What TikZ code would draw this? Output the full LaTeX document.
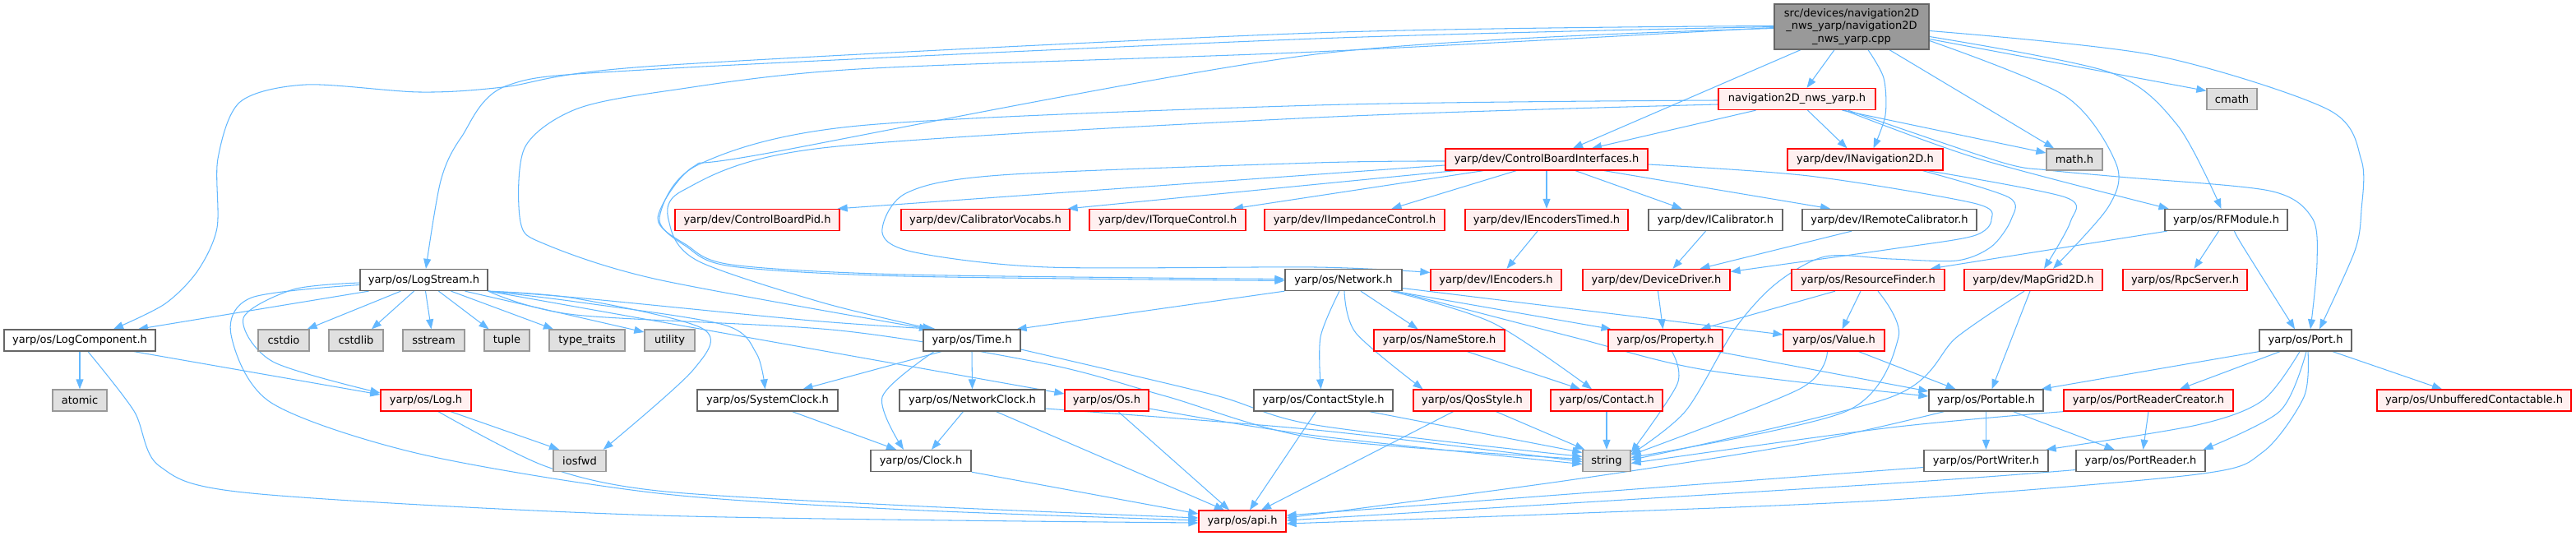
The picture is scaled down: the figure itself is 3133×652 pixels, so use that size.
\documentclass[tikz,border=0pt]{standalone}
\usepackage{fontspec}
\setmainfont{DejaVu Sans}
\usetikzlibrary{arrows.meta}
\definecolor{edgec}{HTML}{63B8FF}
\definecolor{redb}{HTML}{FF0000}
\definecolor{redf}{HTML}{FFF0F0}
\definecolor{greyb}{HTML}{666666}
\definecolor{sysb}{HTML}{999999}
\definecolor{sysf}{HTML}{E0E0E0}
\definecolor{rootf}{HTML}{999999}
\pgfdeclarelayer{background}
\pgfsetlayers{background,main}
\tikzset{
 base/.style={rectangle, draw, line width=1.3pt, minimum height=26pt, inner sep=0pt, font=\fontsize{13pt}{15.5pt}\selectfont, text=black},
 trunc/.style={base, draw=redb, fill=redf},
 plain/.style={base, draw=greyb, fill=white},
 sys/.style={base, draw=sysb, fill=sysf},
 root/.style={base, draw=greyb, fill=rootf, minimum height=55pt, align=center},
 edge/.style={draw=edgec, line width=1.05pt, -{Triangle[length=12pt,width=9pt]}},
}
\begin{document}
\begin{tikzpicture}[x=1pt,y=-1pt]
\useasboundingbox (0,0) rectangle (3133,652);
% row 1-3
\node[root, minimum width=188pt] (cpp) at (2252,32.5) {src/devices/navigation2D\\\_nws\_yarp/navigation2D\\\_nws\_yarp.cpp};
\node[trunc, minimum width=191pt] (nav) at (2185.5,120.5) {navigation2D\_nws\_yarp.h};
\node[sys, minimum width=61pt] (cmath) at (2714.5,120.5) {cmath};
\node[trunc, minimum width=246pt] (cbi) at (1881,194) {yarp/dev/ControlBoardInterfaces.h};
\node[trunc, minimum width=189pt] (inav) at (2268.5,194) {yarp/dev/INavigation2D.h};
\node[sys, minimum width=68pt] (mathh) at (2523,194) {math.h};
% row 4
\node[trunc, minimum width=200pt] (cbpid) at (921,267.5) {yarp/dev/ControlBoardPid.h};
\node[trunc, minimum width=205pt] (calvoc) at (1198.5,267.5) {yarp/dev/CalibratorVocabs.h};
\node[trunc, minimum width=190pt] (itorque) at (1420,267.5) {yarp/dev/ITorqueControl.h};
\node[trunc, minimum width=219pt] (iimp) at (1647.5,267.5) {yarp/dev/IImpedanceControl.h};
\node[trunc, minimum width=198pt] (ienct) at (1881,267.5) {yarp/dev/IEncodersTimed.h};
\node[plain, minimum width=163pt] (ical) at (2086.5,267.5) {yarp/dev/ICalibrator.h};
\node[plain, minimum width=212pt] (iremcal) at (2298,267.5) {yarp/dev/IRemoteCalibrator.h};
\node[plain, minimum width=149pt] (rfm) at (2707.5,267.5) {yarp/os/RFModule.h};
% row 5
\node[plain, minimum width=155pt] (logstream) at (515.5,340.5) {yarp/os/LogStream.h};
\node[plain, minimum width=142pt] (network) at (1634,340.5) {yarp/os/Network.h};
\node[trunc, minimum width=159pt] (ienc) at (1819.5,340.5) {yarp/dev/IEncoders.h};
\node[trunc, minimum width=179pt] (devdrv) at (2014.5,340.5) {yarp/dev/DeviceDriver.h};
\node[trunc, minimum width=186pt] (resfind) at (2272,340.5) {yarp/os/ResourceFinder.h};
\node[trunc, minimum width=168pt] (mapgrid) at (2473,340.5) {yarp/dev/MapGrid2D.h};
\node[trunc, minimum width=151pt] (rpc) at (2657.5,340.5) {yarp/os/RpcServer.h};
% row 6
\node[plain, minimum width=184pt] (logcomp) at (97,414) {yarp/os/LogComponent.h};
\node[sys, minimum width=62pt] (cstdio) at (345,414) {cstdio};
\node[sys, minimum width=66pt] (cstdlib) at (433,414) {cstdlib};
\node[sys, minimum width=75pt] (sstream) at (527.5,414) {sstream};
\node[sys, minimum width=55pt] (tuple) at (616.5,414) {tuple};
\node[sys, minimum width=92pt] (typetr) at (714,414) {type\_traits};
\node[sys, minimum width=61pt] (utility) at (814.5,414) {utility};
\node[plain, minimum width=118pt] (timeh) at (1182,414) {yarp/os/Time.h};
\node[trunc, minimum width=159pt] (namestore) at (1750.5,414) {yarp/os/NameStore.h};
\node[trunc, minimum width=139pt] (property) at (2025.5,414) {yarp/os/Property.h};
\node[trunc, minimum width=123pt] (value) at (2230.5,414) {yarp/os/Value.h};
\node[plain, minimum width=112pt] (port) at (2804,414) {yarp/os/Port.h};
% row 7
\node[sys, minimum width=66pt] (atomic) at (97,487) {atomic};
\node[trunc, minimum width=110pt] (logh) at (518,487) {yarp/os/Log.h};
\node[plain, minimum width=171pt] (sysclock) at (933.5,487) {yarp/os/SystemClock.h};
\node[plain, minimum width=177pt] (netclock) at (1182.5,487) {yarp/os/NetworkClock.h};
\node[trunc, minimum width=102pt] (osh) at (1346,487) {yarp/os/Os.h};
\node[plain, minimum width=169pt] (contstyle) at (1609.5,487) {yarp/os/ContactStyle.h};
\node[trunc, minimum width=143pt] (qos) at (1790.5,487) {yarp/os/QosStyle.h};
\node[trunc, minimum width=136pt] (contact) at (1954,487) {yarp/os/Contact.h};
\node[plain, minimum width=139pt] (portable) at (2415.5,487) {yarp/os/Portable.h};
\node[trunc, minimum width=206pt] (prc) at (2613,487) {yarp/os/PortReaderCreator.h};
\node[trunc, minimum width=236pt] (unbuf) at (3009,487) {yarp/os/UnbufferedContactable.h};
% row 8
\node[sys, minimum width=64pt] (iosfwd) at (705,560.5) {iosfwd};
\node[plain, minimum width=122pt] (clock) at (1120,560.5) {yarp/os/Clock.h};
\node[sys, minimum width=58pt] (string) at (1954,560.5) {string};
\node[plain, minimum width=151pt] (portwriter) at (2415.5,560.5) {yarp/os/PortWriter.h};
\node[plain, minimum width=157pt] (portreader) at (2603.5,560.5) {yarp/os/PortReader.h};
% row 9
\node[trunc, minimum width=106pt] (api) at (1511,634) {yarp/os/api.h};

\begin{pgfonlayer}{background}
% cpp
\draw[edge] ([xshift=-21pt]cpp.south) -- ([xshift=12pt]nav.north);
\draw[edge] ([xshift=-62pt]cpp.south) -- ([xshift=32pt]cbi.north);
\draw[edge] plot[smooth] coordinates {([xshift=20pt]cpp.south) (2291,95) (2293,140) ([xshift=10pt]inav.north)};
\draw[edge] ([xshift=46pt]cpp.south) -- ([xshift=-25pt]mathh.north);
\draw[edge] ([yshift=-15pt]cpp.east) -- ([yshift=10pt]cmath.west);
\draw[edge] plot[smooth] coordinates {([yshift=-17pt]cpp.east) (2512,117) (2574,200) (2564,252) ([xshift=24pt]mapgrid.north)};
\draw[edge] plot[smooth] coordinates {([yshift=-12pt]cpp.east) (2566,88) (2648,152) ([xshift=-6pt]rfm.north)};
\draw[edge] plot[smooth] coordinates {([yshift=-5pt]cpp.east) (2619,67) (2831,133) (2872,195) (2872,255) (2864,305) ([xshift=17pt]port.north)};
\draw[edge] plot[smooth] coordinates {([yshift=1pt]cpp.west) (1600,40) (800,80) (612,106) (510,112) (372,103) (292,124) (265,193) (264,277) (240,330) (200,370) ([xshift=41pt]logcomp.north)};
\draw[edge] plot[smooth] coordinates {(cpp.west) (1600,47) (800,84) (617,104) (561,167) (536,220) ([xshift=2.5pt]logstream.north)};
\draw[edge] plot[smooth] coordinates {([yshift=-1pt]cpp.west) (1600,63) (1044,84) (815,110) (700,133) (638,180) (633,270) (663,297) (800,340) ([xshift=-52pt]timeh.north)};
\draw[edge] plot[smooth] coordinates {([yshift=-2pt]cpp.west) (1600,66) (930,187) (843,203) (800,265) (835,298) (890,322) (1100,334) ([yshift=1pt]network.west)};
% nav
\draw[edge] ([xshift=-50pt]nav.south) -- ([xshift=55pt]cbi.north);
\draw[edge] ([xshift=13pt]nav.south) -- ([xshift=-22pt]inav.north);
\draw[edge] ([xshift=55pt]nav.south) -- ([yshift=8pt]mathh.west);
\draw[edge] plot[smooth] coordinates {([xshift=58pt]nav.south) (2406,193) ([xshift=-70pt]rfm.north)};
\draw[edge] plot[smooth] coordinates {([xshift=62pt]nav.south) (2433,197) (2491,207) (2576,215) (2760,232) (2812,265) (2818,320) ([xshift=6pt]port.north)};
\draw[edge] plot[smooth] coordinates {([yshift=-1.5pt]nav.west) (1600,128) (1044,153) (850,200) (802,265) (835,300) (890,324) (1100,336) ([yshift=-1pt]network.west)};
\draw[edge] plot[smooth] coordinates {([yshift=-6.5pt]nav.west) (1600,143) (1000,180) (830,232) (815,275) (850,318) (1000,368) ([xshift=-48pt]timeh.north)};
% cbi
\draw[edge] ([yshift=-7pt]cbi.west) -- ([xshift=-3pt]cbpid.north east);
\draw[edge] ([xshift=-111pt]cbi.south) -- ([xshift=-3pt]calvoc.north east);
\draw[edge] ([xshift=-77pt]cbi.south) -- ([xshift=80pt]itorque.north);
\draw[edge] ([xshift=-37pt]cbi.south) -- ([xshift=45pt]iimp.north);
\draw[edge] (cbi.south) -- (ienct.north);
\draw[edge] ([xshift=35pt]cbi.south) -- ([xshift=-41pt]ical.north);
\draw[edge] ([xshift=70pt]cbi.south) -- ([xshift=-72pt]iremcal.north);
\draw[edge] plot[smooth] coordinates {([yshift=-2pt]cbi.west) (1600,198) (1217,213) (1102,235) (1073,283) (1113,307) (1274,325) (1600,325) ([yshift=9pt]ienc.west)};
\draw[edge] plot[smooth] coordinates {([yshift=-6pt]cbi.east) (2200,214) (2400,247) (2422,267) (2400,287) (2300,303) ([yshift=10pt]devdrv.east)};
\draw[edge] ([xshift=-11pt]ienct.south) -- ([xshift=13pt]ienc.north);
\draw[edge] ([xshift=-12pt]ical.south) -- ([xshift=20pt]devdrv.north);
\draw[edge] ([xshift=-46pt]iremcal.south) -- ([xshift=53pt]devdrv.north);
% inav
\draw[edge] plot[smooth] coordinates {([xshift=76pt]inav.south) (2512,240) (2518,270) ([xshift=13pt]mapgrid.north)};
\draw[edge] plot[smooth] coordinates {([xshift=70pt]inav.south) (2443,240) (2446,267) (2422,300) (2380,317) (2300,315) (2220,312) (2160,345) (2110,400) (2050,500) ([yshift=8pt]string.east)};
% rfm
\draw[edge] ([xshift=-72pt]rfm.south) -- ([xshift=76pt]resfind.north);
\draw[edge] ([xshift=-9pt]rfm.south) -- ([xshift=11pt]rpc.north);
\draw[edge] plot[smooth] coordinates {([xshift=10pt]rfm.south) (2728,300) ([xshift=-13pt]port.north)};
% logstream
\draw[edge] ([xshift=-67pt]logstream.south) -- ([xshift=71pt]logcomp.north);
\draw[edge] ([xshift=-28pt]logstream.south) -- ([xshift=-3pt]cstdio.north east);
\draw[edge] ([xshift=-12pt]logstream.south) -- ([xshift=19pt]cstdlib.north);
\draw[edge] ([xshift=2pt]logstream.south) -- ([xshift=-3pt]sstream.north);
\draw[edge] ([xshift=18pt]logstream.south) -- ([xshift=-22pt]tuple.north);
\draw[edge] ([xshift=33pt]logstream.south) -- ([xshift=-41pt]typetr.north);
\draw[edge] ([xshift=50pt]logstream.south) -- ([yshift=10pt]utility.west);
\draw[edge] plot[smooth] coordinates {([yshift=-3.5pt]logstream.west) (357,352) (296,387) (332,440) ([yshift=9pt]logh.west)};
\draw[edge] plot[smooth] coordinates {([yshift=-6pt]logstream.west) (306,362) (281,407) (330,490) (510,552) (800,600) (1102,620) ([yshift=1pt]api.west)};
\draw[edge] plot[smooth] coordinates {(logstream.south east) (700,362) (987,390) ([xshift=-44pt]timeh.north)};
\draw[edge] plot[smooth] coordinates {(logstream.south east) (700,367) (880,395) (920,430) ([xshift=-3pt]sysclock.north)};
\draw[edge] (logstream.south east) -- ([yshift=8pt]osh.west);
\draw[edge] plot[smooth] coordinates {(logstream.south east) (700,383) (1021,402) (1274,443) (1418,482) (1600,533) ([yshift=2pt]string.west)};
\draw[edge] plot[smooth] coordinates {(logstream.south east) (700,363) (855,400) (843,450) ([xshift=-4pt]iosfwd.north east)};
% logcomp, log
\draw[edge] (logcomp.south) -- (atomic.north);
\draw[edge] ([xshift=66pt]logcomp.south) -- ([yshift=7pt]logh.west);
\draw[edge] plot[smooth] coordinates {([xshift=10pt]logcomp.south) (163,500) (194,567) (306,600) (800,627) ([yshift=-2pt]api.west)};
\draw[edge] ([xshift=30pt]logh.south) -- ([xshift=-25pt]iosfwd.north);
\draw[edge] plot[smooth] coordinates {([xshift=15pt]logh.south) (663,567) (800,597) (1102,615) ([yshift=4pt]api.west)};
% time
\draw[edge] ([xshift=-37pt]timeh.south) -- ([xshift=43pt]sysclock.north);
\draw[edge] (timeh.south) -- (netclock.north);
\draw[edge] plot[smooth] coordinates {([xshift=-46pt]timeh.south) (1073,483) ([xshift=-21pt]clock.north)};
\draw[edge] plot[smooth] coordinates {([yshift=-11pt]timeh.east) (1475,480) (1600,517) ([yshift=5pt]string.west)};
% network
\draw[edge] (network.south west) -- ([xshift=-5pt]timeh.north east);
\draw[edge] plot[smooth] coordinates {([xshift=-5pt]network.south) (1606,410) ([xshift=-3pt]contstyle.north)};
\draw[edge] plot[smooth] coordinates {([xshift=1pt]network.south) (1649,405) ([xshift=-60pt]qos.north)};
\draw[edge] ([xshift=21pt]network.south) -- ([xshift=-26pt]namestore.north);
\draw[edge] plot[smooth] coordinates {([xshift=58pt]network.south) (1816,393) ([xshift=-18pt]contact.north)};
\draw[edge] ([xshift=61pt]network.south) -- ([xshift=-66pt]property.north);
\draw[edge] ([yshift=-10pt]network.east) -- ([yshift=7pt]value.west);
\draw[edge] plot[smooth] coordinates {([xshift=64pt]network.south) (1913,410) (2074,450) ([yshift=5pt]portable.west)};
% devdrv, resfind, property, value, mapgrid
\draw[edge] ([xshift=2pt]devdrv.south) -- ([xshift=-3pt]property.north);
\draw[edge] ([xshift=-40pt]resfind.south) -- ([xshift=43pt]property.north);
\draw[edge] ([xshift=-9pt]resfind.south) -- ([xshift=10pt]value.north);
\draw[edge] plot[smooth] coordinates {([xshift=12pt]resfind.south) (2309,410) (2246,500) ([yshift=4pt]string.east)};
\draw[edge] plot[smooth] coordinates {([xshift=8pt]property.south) (2040,467) ([yshift=10pt]string.east)};
\draw[edge] ([xshift=63pt]property.south) -- ([yshift=11pt]portable.west);
\draw[edge] plot[smooth] coordinates {([xshift=-8pt]value.south) (2189,473) ([yshift=7pt]string.east)};
\draw[edge] ([xshift=30pt]value.south) -- ([xshift=-37pt]portable.north);
\draw[edge] ([xshift=-4pt]mapgrid.south) -- ([xshift=7pt]portable.north);
\draw[edge] plot[smooth] coordinates {([xshift=-11pt]mapgrid.south) (2380,410) (2300,483) ([yshift=1pt]string.east)};
% port
\draw[edge] (port.south west) -- ([xshift=-3pt]portable.north east);
\draw[edge] ([xshift=-31pt]port.south) -- ([xshift=38pt]prc.north);
\draw[edge] ([xshift=33pt]port.south) -- ([xshift=-39pt]unbuf.north);
\draw[edge] plot[smooth] coordinates {([xshift=-7pt]port.south) (2752,487) (2672,517) ([xshift=-3pt]portwriter.north east)};
\draw[edge] plot[smooth] coordinates {([xshift=1pt]port.south) (2773,500) ([xshift=-3pt]portreader.north east)};
\draw[edge] plot[smooth] coordinates {([xshift=3pt]port.south) (2802,483) (2752,550) (2672,577) (2300,608) (1900,625) ([yshift=-3pt]api.east)};
% portable, prc, writer, reader
\draw[edge] (portable.south) -- (portwriter.north);
\draw[edge] ([xshift=33pt]portable.south) -- ([xshift=-32pt]portreader.north);
\draw[edge] plot[smooth] coordinates {([xshift=-51pt]portable.south) (2189,540) (1902,585) ([yshift=4pt]api.east)};
\draw[edge] (prc.south) -- ([xshift=3pt]portreader.north);
\draw[edge] plot[smooth] coordinates {(prc.south west) (2300,520) ([yshift=-3pt]string.east)};
\draw[edge] ([yshift=-8pt]portwriter.west) -- ([yshift=7pt]api.east);
\draw[edge] plot[smooth] coordinates {([yshift=-11pt]portreader.west) (2300,588) ([yshift=1pt]api.east)};
% clocks, os, contact styles
\draw[edge] ([xshift=30pt]sysclock.south) -- ([xshift=-30pt]clock.north);
\draw[edge] ([xshift=-11pt]netclock.south) -- ([xshift=13pt]clock.north);
\draw[edge] ([xshift=29pt]netclock.south) -- ([xshift=-22pt]api.north);
\draw[edge] plot[smooth] coordinates {([yshift=-10pt]netclock.east) (1600,523) ([yshift=-1pt]string.west)};
\draw[edge] ([xshift=14pt]osh.south) -- ([xshift=-16pt]api.north);
\draw[edge] plot[smooth] coordinates {([yshift=-10pt]osh.east) (1600,530) ([yshift=-4pt]string.west)};
\draw[edge] (clock.south east) -- ([yshift=9pt]api.west);
\draw[edge] ([xshift=-9pt]contstyle.south) -- ([xshift=9pt]api.north);
\draw[edge] ([xshift=56pt]contstyle.south) -- ([yshift=10pt]string.west);
\draw[edge] ([xshift=-23pt]qos.south) -- ([xshift=23pt]api.north);
\draw[edge] ([xshift=29pt]qos.south) -- ([xshift=3pt]string.north west);
\draw[edge] (contact.south) -- (string.north);
\draw[edge] ([xshift=34pt]namestore.south) -- ([xshift=-32pt]contact.north);
\end{pgfonlayer}
\end{tikzpicture}
\end{document}
